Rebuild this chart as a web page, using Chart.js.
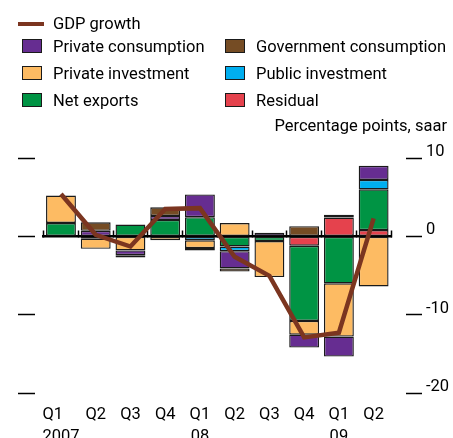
<!DOCTYPE html>
<html>
<head>
<meta charset="utf-8">
<script src="https://cdn.jsdelivr.net/npm/chart.js@4/dist/chart.umd.min.js"></script>
<style>
  body { margin: 0; background: #fff; }
  #marco { position: relative; width: 453px; height: 438px; overflow: hidden; font-family: Roboto, sans-serif; }
  #grafico { position: absolute; left: 0; top: 0; }
  .texto { position: absolute; font-size: 16.5px; line-height: 20px; color: #000; white-space: nowrap; }
  .caja { position: absolute; width: 18px; height: 12px; border: 1.5px solid #1a1a1a; }
  .raya { position: absolute; height: 4px; }
</style>
</head>
<body>
<div id="marco">
  <canvas id="grafico" width="453" height="438"></canvas>
  <div id="leyenda"></div>
</div>
<script>
// Etiquetas del eje x (trimestres)
const trimestres = [["Q1    ", "2007"], "Q2", "Q3", "Q4", ["Q1", "08"], "Q2", "Q3", "Q4", ["Q1", "09"], "Q2"];
const ticksDerecha = [10, 0, -10, -20];

// Crecimiento del PIB (linea)
const crecimientoPIB = [5.4, 0.2, -1.3, 3.5, 3.6, -2.6, -5.05, -12.9, -12.3, 2.3];

// Contribuciones (barras apiladas), en orden desde el cero hacia fuera
const residual = [0, 0, 0, 0, 0, 0, 0, -1.2, 2.4, 0.8];
const exportacionesNetas = [1.7, 0, 1.5, 2.1, 2.45, -1.3, -0.6, -9.6, -6.0, 5.2];
const inversionPublica = [0, -0.3, 0, 0, -0.5, -0.6, 0, 0, 0.35, 1.2];
const inversionPrivada = [3.5, -1.3, -1.8, -0.5, -1.0, 1.7, -4.6, -1.75, -6.8, -6.4];
const consumoPrivado = [0, 0.7, -0.6, 0.5, 2.9, -2.2, 0.45, -1.65, -2.55, 1.8];
const consumoPublico = [0, 1.1, -0.3, 1.1, -0.3, -0.4, 0, 1.3, 0, 0];

const colores = {
  'GDP growth': '#7b3520',
  'Private consumption': '#662d91',
  'Government consumption': '#754c24',
  'Private investment': '#fdbb63',
  'Public investment': '#00aeef',
  'Net exports': '#009444',
  'Residual': '#e5424d'
};

// Leyenda en HTML (dos columnas como en el original)
const leyenda = document.getElementById('leyenda');
function ponerTexto(txt, x, yCentro, derecha) {
  const d = document.createElement('div');
  d.className = 'texto';
  d.textContent = txt;
  d.style.top = (yCentro - 10) + 'px';
  if (derecha) { d.style.right = x + 'px'; } else { d.style.left = x + 'px'; }
  leyenda.appendChild(d);
}
function ponerCaja(nombre, x, yCentro) {
  const c = document.createElement('div');
  c.className = 'caja';
  c.style.left = x + 'px';
  c.style.top = (yCentro - 7.5) + 'px';
  c.style.background = colores[nombre];
  leyenda.appendChild(c);
  ponerTexto(nombre, x + 31, yCentro);
}
const raya = document.createElement('div');
raya.className = 'raya';
raya.style.left = '18px'; raya.style.width = '26px'; raya.style.top = '21.5px';
raya.style.background = colores['GDP growth'];
leyenda.appendChild(raya);
ponerTexto('GDP growth', 53, 23.5);
ponerCaja('Private consumption', 22, 46.8);
ponerCaja('Government consumption', 225, 46.8);
ponerCaja('Private investment', 22, 73.5);
ponerCaja('Public investment', 225, 73.5);
ponerCaja('Net exports', 22, 100.5);
ponerCaja('Residual', 225, 100.5);
ponerTexto('Percentage points, saar', 6, 126.2, true);

function barra(nombre, valores) {
  return {
    type: 'bar',
    label: nombre,
    data: valores,
    backgroundColor: colores[nombre],
    borderColor: '#1a1a1a',
    borderWidth: 1.4,
    borderSkipped: false,
    barPercentage: 0.86,
    categoryPercentage: 1,
    stack: 'pib',
    order: 1
  };
}

const fuente = { family: 'Roboto', size: 16.5, lineHeight: 1.32 };

const config = {
  data: {
    labels: trimestres,
    datasets: [
      {
        type: 'line',
        label: 'GDP growth',
        data: crecimientoPIB,
        borderColor: colores['GDP growth'],
        borderWidth: 4.5,
        pointRadius: 0,
        tension: 0,
        fill: false,
        stack: 'linea',
        order: 0
      },
      barra('Residual', residual),
      barra('Net exports', exportacionesNetas),
      barra('Public investment', inversionPublica),
      barra('Private investment', inversionPrivada),
      barra('Private consumption', consumoPrivado),
      barra('Government consumption', consumoPublico)
    ]
  },
  options: {
    responsive: false,
    animation: false,
    layout: { padding: { top: 158, left: 18, right: 0, bottom: 0 } },
    plugins: { legend: { display: false }, tooltip: { enabled: false } },
    scales: {
      x: {
        stacked: true,
        offset: true,
        grid: { display: false },
        border: { display: false },
        ticks: { color: '#000', font: fuente, maxRotation: 0, autoSkip: false, padding: 3 },
        afterFit: (s) => { s.height = 45; }
      },
      // linea del cero con marcas entre trimestres
      x2: {
        type: 'category',
        axis: 'x',
        position: { y: 0 },
        offset: true,
        z: 1,
        grid: { display: true, drawOnChartArea: false, offset: true, tickLength: -7, tickColor: '#000', tickWidth: 1.5 },
        border: { display: true, color: '#000', width: 2.5 },
        ticks: { display: false }
      },
      y: {
        stacked: true,
        position: 'left',
        min: -20,
        max: 10,
        ticks: { display: false, stepSize: 10 },
        grid: { drawOnChartArea: false, tickLength: 25.6, tickColor: '#000', tickWidth: 1.5, tickBorderDash: [17, 9] },
        border: { display: false },
        afterFit: (s) => { s.width = 25.6; }
      },
      y2: {
        position: 'right',
        min: -20,
        max: 10,
        afterBuildTicks: (s) => { s.ticks = ticksDerecha.map(v => ({ value: v })); },
        ticks: { color: '#000', font: fuente, padding: 4, labelOffset: -6 },
        grid: { drawOnChartArea: false, tickLength: 31, tickColor: '#000', tickWidth: 1.5, tickBorderDash: [16, 15], tickBorderDashOffset: 16 },
        border: { display: false },
        afterFit: (s) => { s.width = 62; }
      }
    }
  }
};

new Chart(document.getElementById('grafico'), config);
</script>
</body>
</html>
